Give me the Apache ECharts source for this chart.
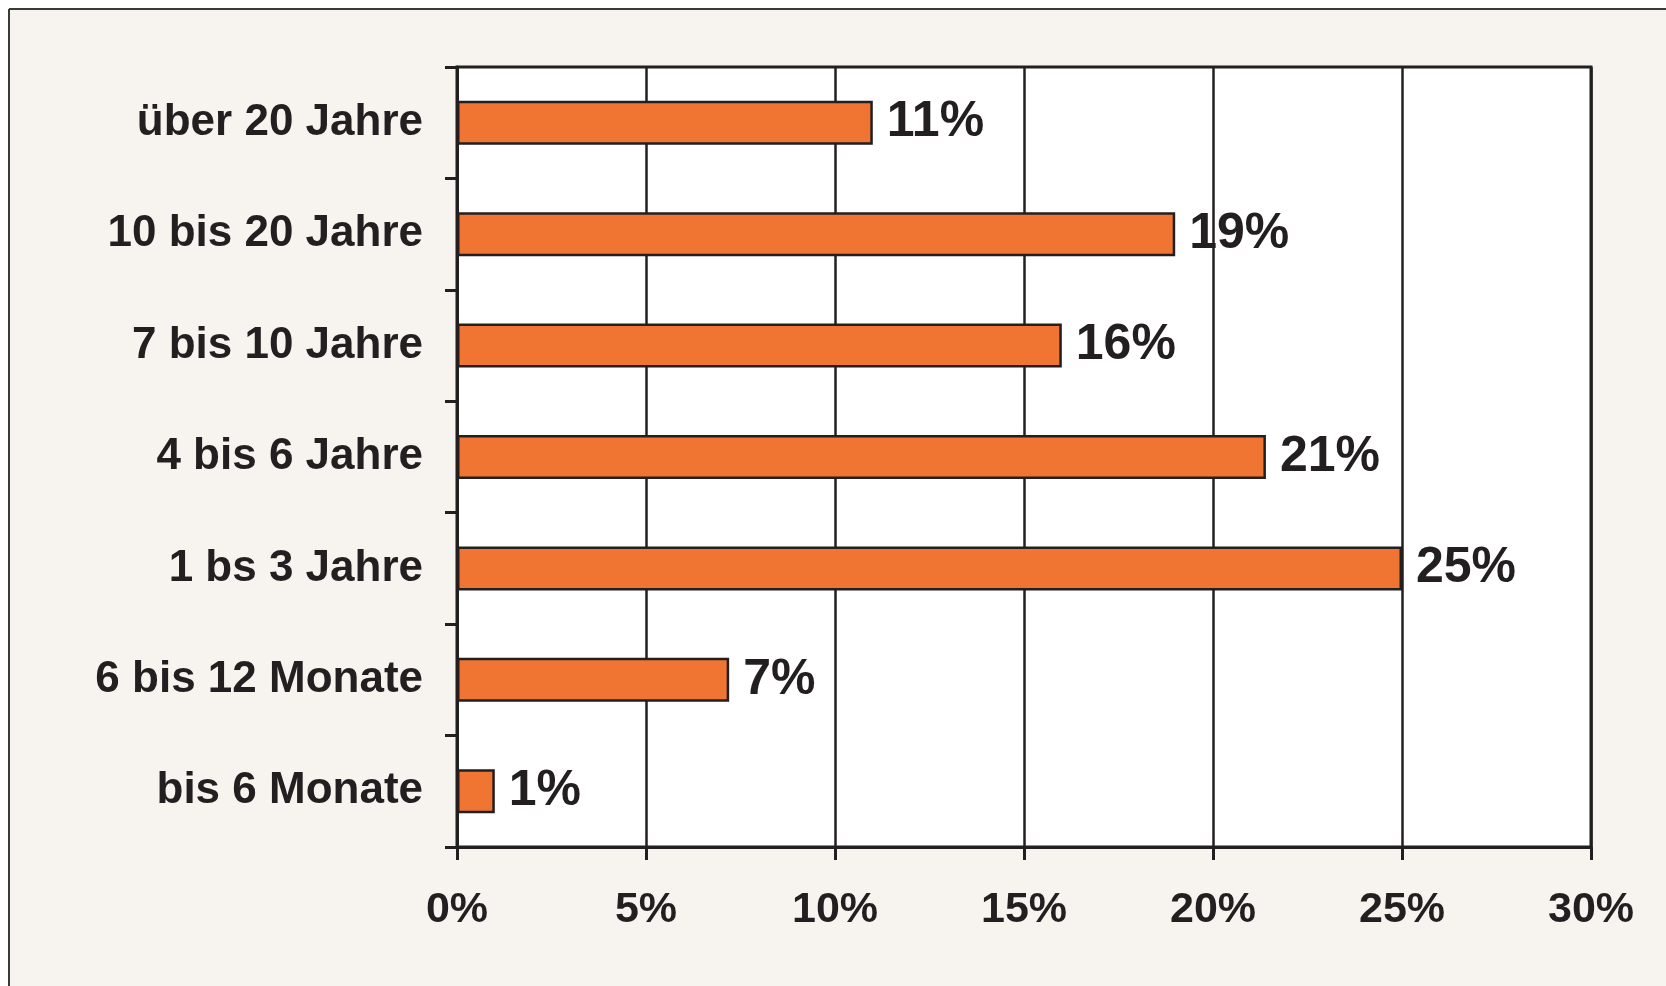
<!DOCTYPE html>
<html>
<head>
<meta charset="utf-8">
<script src="https://cdn.jsdelivr.net/npm/echarts@6/dist/echarts.min.js"></script>
<style>
  html, body { margin: 0; padding: 0; background: #ffffff; }
  #chart { width: 1666px; height: 986px; }
</style>
</head>
<body>
<div id="chart"></div>
<script>
var categories = ['über 20 Jahre', '10 bis 20 Jahre', '7 bis 10 Jahre', '4 bis 6 Jahre', '1 bs 3 Jahre', '6 bis 12 Monate', 'bis 6 Monate'];
var shares = [11, 19, 16, 21.4, 25, 7.2, 1];
var shareLabels = ['11%', '19%', '16%', '21%', '25%', '7%', '1%'];
var xTicks = [0, 5, 10, 15, 20, 25, 30];

var ink = '#231f20';
var chart = echarts.init(document.getElementById('chart'));

var option = {
  backgroundColor: '#ffffff',
  textStyle: { fontFamily: 'Liberation Sans, Arial, sans-serif' },
  graphic: [
    // light tinted frame area with dark top/left border
    { type: 'rect', z: -10, shape: { x: 9, y: 9, width: 1657, height: 977 },
      style: { fill: '#f7f4ef', stroke: null } },
    { type: 'line', z: 1, shape: { x1: 9, y1: 9, x2: 1666, y2: 9 },
      style: { stroke: '#3a3a3a', lineWidth: 2 } },
    { type: 'line', z: 1, shape: { x1: 9, y1: 9, x2: 9, y2: 986 },
      style: { stroke: '#3a3a3a', lineWidth: 2 } }
  ],
  grid: {
    left: 457, right: 75, top: 67, bottom: 139,
    show: true, backgroundColor: '#ffffff',
    borderColor: ink, borderWidth: 3
  },
  xAxis: {
    type: 'value',
    min: 0, max: 30, interval: 5,
    axisLine: { show: true, lineStyle: { color: ink, width: 3 } },
    axisTick: { show: true, length: 13, lineStyle: { color: ink, width: 3 } },
    splitLine: { show: true, lineStyle: { color: ink, width: 2.5 } },
    axisLabel: {
      margin: 42, color: ink, fontWeight: 'bold', fontSize: 43,
      formatter: function (v) { return xTicks.indexOf(v) >= 0 ? v + '%' : ''; }
    }
  },
  yAxis: {
    type: 'category',
    inverse: true,
    data: categories,
    axisLine: { show: true, lineStyle: { color: ink, width: 3 } },
    axisTick: { show: true, length: 12, lineStyle: { color: ink, width: 3 } },
    axisLabel: { margin: 34, color: ink, fontWeight: 'bold', fontSize: 44 }
  },
  series: [{
    type: 'bar',
    data: shares,
    barWidth: 44,
    itemStyle: { color: '#f07533', borderColor: ink, borderWidth: 2.5 },
    label: {
      show: true, position: 'right', distance: 14,
      color: ink, fontWeight: 'bold', fontSize: 50,
      formatter: function (p) { return shareLabels[p.dataIndex]; }
    }
  }]
};

chart.setOption(option);
</script>
</body>
</html>
